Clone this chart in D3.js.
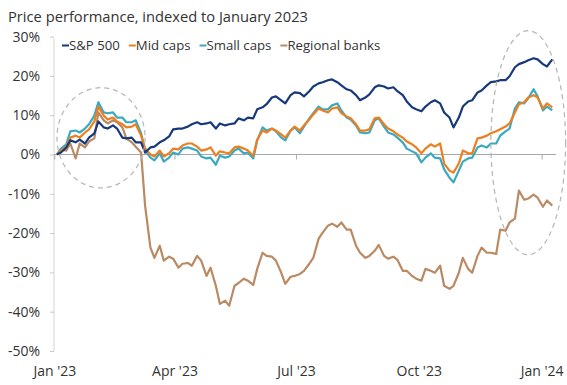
<!DOCTYPE html>
<html>
<head>
<meta charset="utf-8">
<script src="https://cdn.jsdelivr.net/npm/d3@7"></script>
<style>
  html, body { margin: 0; padding: 0; background: #fff; }
  svg { display: block; font-family: "Open Sans", "Noto Sans", sans-serif; }
</style>
</head>
<body>
<svg id="chart" width="567" height="385"></svg>
<script>
// Observation dates (twice weekly)
const dates = [
  "2023-01-03","2023-01-06","2023-01-10","2023-01-13","2023-01-17","2023-01-20","2023-01-24","2023-01-27","2023-01-31",
  "2023-02-03","2023-02-07","2023-02-10","2023-02-14","2023-02-17","2023-02-21","2023-02-24","2023-02-28",
  "2023-03-03","2023-03-07","2023-03-10","2023-03-14","2023-03-17","2023-03-21","2023-03-24","2023-03-28","2023-03-31",
  "2023-04-04","2023-04-07","2023-04-11","2023-04-14","2023-04-18","2023-04-21","2023-04-25","2023-04-28",
  "2023-05-02","2023-05-05","2023-05-09","2023-05-12","2023-05-16","2023-05-19","2023-05-23","2023-05-26","2023-05-30",
  "2023-06-02","2023-06-06","2023-06-09","2023-06-13","2023-06-16","2023-06-20","2023-06-23","2023-06-27","2023-06-30",
  "2023-07-04","2023-07-07","2023-07-11","2023-07-14","2023-07-18","2023-07-21","2023-07-25","2023-07-28",
  "2023-08-01","2023-08-04","2023-08-08","2023-08-11","2023-08-15","2023-08-18","2023-08-22","2023-08-25","2023-08-29",
  "2023-09-01","2023-09-05","2023-09-08","2023-09-12","2023-09-15","2023-09-19","2023-09-22","2023-09-26","2023-09-29",
  "2023-10-03","2023-10-06","2023-10-10","2023-10-13","2023-10-17","2023-10-20","2023-10-24","2023-10-27","2023-10-31",
  "2023-11-03","2023-11-07","2023-11-10","2023-11-14","2023-11-17","2023-11-21","2023-11-24","2023-11-28",
  "2023-12-01","2023-12-05","2023-12-08","2023-12-12","2023-12-15","2023-12-19","2023-12-22","2023-12-26","2023-12-29",
  "2024-01-02","2024-01-05","2024-01-09"
];

// Cumulative price change since the start of 2023, in percent
const sp500 = [
  0,0.5,1.8,3.6,3.1,3.8,2.8,4.3,5.4,
  8.4,6.9,6.6,7.4,6.6,4.3,4.1,4.3,
  3.1,3.1,0.5,1.8,2.0,3.1,3.6,4.6,6.4,
  6.6,6.6,7.1,7.7,8.2,7.7,7.9,8.2,
  6.6,7.9,7.4,7.7,7.9,9.2,8.7,9.4,9.2,
  11.5,12.0,12.8,14.5,14.8,13.8,13.0,15.1,15.8,
  15.6,14.8,16.1,17.3,18.1,18.4,18.9,19.1,
  18.4,17.6,16.6,16.3,15.1,13.8,14.5,15.3,17.1,
  17.6,17.3,16.8,17.1,16.1,15.1,13.5,12.0,11.5,
  11.0,12.2,13.3,13.8,13.0,10.7,9.4,6.9,9.4,
  12.2,13.5,13.8,15.8,16.3,17.6,18.4,18.6,
  18.9,18.9,19.9,22.2,23.0,23.5,24.0,24.5,24.2,
  23.0,22.4,24.2
];

const midCaps = [
  0,1.0,2.0,4.3,4.8,4.3,5.6,6.4,8.4,
  12.2,9.9,8.9,9.4,8.4,7.7,6.9,7.1,
  7.7,4.8,1.5,0,-0.5,1.0,-0.5,0.3,1.5,
  1.3,2.3,2.8,2.8,2.0,1.0,1.3,1.8,
  -0.3,0.8,0.5,0.3,1.8,2.0,1.5,1.0,-0.3,
  3.8,6.1,5.6,6.6,6.1,5.1,4.3,6.1,7.1,
  6.1,7.4,8.9,10.2,11.7,11.2,10.7,11.7,
  12.0,10.5,9.7,9.2,7.7,6.1,6.1,6.4,9.2,
  9.4,7.7,6.6,5.9,5.1,4.3,3.3,2.6,1.8,
  0.3,1.5,2.6,2.0,2.8,-2.3,-4.1,-4.6,-2.3,
  1.0,0.3,0.3,4.1,4.3,4.8,5.4,5.9,
  6.4,7.1,7.9,10.7,12.8,13.3,14.5,15.1,14.5,
  11.7,13.0,12.0
];

const smallCaps = [
  0,1.5,2.6,5.9,6.1,5.6,6.6,7.7,9.9,
  13.3,10.7,10.5,10.7,9.4,9.4,8.2,8.2,
  8.7,5.4,1.0,-0.8,-1.5,0.3,-1.8,-0.8,0.5,
  0,1.5,1.8,1.5,1.0,-0.5,-1.0,-0.8,
  -2.6,-0.3,-0.8,-0.5,1.0,1.5,0.3,0.5,-1.0,
  3.6,6.9,6.1,6.6,5.9,4.3,3.6,6.1,6.9,
  5.4,7.1,9.2,10.5,12.2,11.5,11.5,12.5,
  13.0,11.2,9.4,8.9,7.4,5.6,5.4,5.6,8.7,
  9.2,7.1,5.6,5.1,4.3,3.1,1.5,0.8,0.3,
  -2.0,-0.8,0.3,-0.8,-1.0,-3.8,-5.9,-7.1,-4.1,
  -1.8,-1.0,-0.8,1.8,2.3,1.8,2.8,2.8,
  4.8,5.9,6.6,11.7,13.3,13.0,14.3,16.6,14.8,
  11.2,12.2,11.2
];

const regionalBanks = [
  0,1.3,1.0,2.8,-1.0,2.8,1.8,3.3,4.1,
  10.7,8.7,7.9,8.7,8.2,6.9,4.1,3.1,
  2.0,0.5,-13.0,-23.7,-26.3,-23.2,-27.0,-26.0,-26.5,
  -28.8,-27.8,-27.6,-28.3,-25.8,-27.0,-30.9,-28.8,
  -33.4,-38.0,-37.2,-38.5,-33.4,-32.7,-31.6,-32.1,-33.2,
  -29.1,-25.0,-25.8,-26.0,-27.0,-30.1,-32.9,-31.1,-30.9,
  -30.4,-29.6,-27.8,-26.3,-21.4,-19.9,-18.1,-17.6,
  -18.4,-17.3,-19.1,-19.1,-23.2,-25.0,-26.3,-25.8,-24.5,
  -23.0,-25.8,-26.5,-26.0,-26.8,-29.6,-29.6,-30.9,-31.6,
  -32.1,-29.1,-29.6,-30.1,-28.3,-33.4,-34.2,-33.4,-30.1,
  -26.3,-29.1,-30.1,-25.8,-23.7,-25.0,-25.0,-25.3,
  -19.1,-19.4,-17.3,-16.3,-9.2,-11.5,-11.2,-10.2,-11.0,
  -13.3,-11.7,-13.0
];

const seriesNames = ["S&P 500", "Mid caps", "Small caps", "Regional banks"];
const seriesColors = ["#17397a", "#ec7f1f", "#3aa9c2", "#b98a63"];
const yTicks = [30, 20, 10, 0, -10, -20, -30, -40, -50];
const xTickDates = ["2023-01-01", "2023-04-01", "2023-07-01", "2023-10-01", "2024-01-01"];
const xTickLabels = ["Jan '23", "Apr '23", "Jul '23", "Oct '23", "Jan '24"];

const parse = d3.timeParse("%Y-%m-%d");
const when = dates.map(parse);
const seriesValues = [sp500, midCaps, smallCaps, regionalBanks];

const svg = d3.select("#chart");

const x = d3.scaleTime()
  .domain([parse("2023-01-01"), parse("2024-01-01")])
  .range([54.3, 541.6]);
const y = d3.scaleLinear()
  .domain([-50, 30])
  .range([351, 36.6]);

// Title
svg.append("text")
  .attr("x", 8).attr("y", 22)
  .attr("font-size", 14.7)
  .attr("fill", "#333")
  .text("Price performance, indexed to January 2023");

// Left axis: thin rule with short outward ticks
const yAxis = svg.append("g")
  .attr("transform", "translate(54,0)")
  .call(d3.axisLeft(y).tickValues(yTicks).tickSize(4).tickPadding(10)
    .tickFormat(d => d + "%"));
yAxis.select(".domain").attr("stroke", "#d3d3d3").attr("d", `M0,${y(30) + 2}V${y(-50)}`);
yAxis.selectAll(".tick line").attr("stroke", "#c8c8c8");
yAxis.selectAll(".tick text")
  .attr("font-size", 14).attr("fill", "#333")
  .attr("font-family", "'Open Sans', sans-serif");

// Zero line with quarter ticks
const zero = svg.append("g")
  .attr("transform", `translate(0,${y(0)})`)
  .call(d3.axisBottom(x).tickValues(xTickDates.map(parse)).tickSize(5).tickFormat(""));
zero.select(".domain").attr("stroke", "#a9a9a9").attr("d", `M54,0H556`);
zero.selectAll(".tick line").attr("stroke", "#a9a9a9");

// Bottom date labels
const xLab = svg.append("g")
  .attr("transform", "translate(0,366)")
  .call(d3.axisBottom(x).tickValues(xTickDates.map(parse)).tickSize(0).tickPadding(0)
    .tickFormat((d, i) => xTickLabels[i]));
xLab.select(".domain").remove();
xLab.selectAll(".tick text")
  .attr("font-size", 14).attr("fill", "#333")
  .attr("font-family", "'Open Sans', sans-serif");

// Series lines (drawn back to front)
const line = d3.line()
  .x((d, i) => x(when[i]))
  .y(d => y(d));
[3, 2, 1, 0].forEach(k => {
  svg.append("path")
    .datum(seriesValues[k])
    .attr("fill", "none")
    .attr("stroke", seriesColors[k])
    .attr("stroke-width", 2.2)
    .attr("stroke-linejoin", "round")
    .attr("d", line);
});

// Dashed call-out ellipses
const callouts = [
  { from: "2023-01-03", to: "2023-03-10", hi: 17, lo: -8.5 },
  { from: "2023-11-24", to: "2024-01-19", hi: 31.5, lo: -25.5 }
];
callouts.forEach(c => {
  const x0 = x(parse(c.from)), x1 = x(parse(c.to));
  const y0 = y(c.hi), y1 = y(c.lo);
  svg.append("ellipse")
    .attr("cx", (x0 + x1) / 2).attr("cy", (y0 + y1) / 2)
    .attr("rx", (x1 - x0) / 2).attr("ry", (y1 - y0) / 2)
    .attr("fill", "none")
    .attr("stroke", "#b5b5b5")
    .attr("stroke-width", 1.2)
    .attr("stroke-dasharray", "5,4");
});

// Legend
const legend = svg.append("g").attr("transform", "translate(62,50)");
let lx = 0;
seriesNames.forEach((name, i) => {
  const g = legend.append("g").attr("transform", `translate(${lx},0)`);
  g.append("line").attr("x1", 0).attr("x2", 7).attr("y1", -4.5).attr("y2", -4.5)
    .attr("stroke", seriesColors[i]).attr("stroke-width", 2);
  const t = g.append("text").attr("x", 7).attr("y", 0)
    .attr("font-size", 13.2).attr("fill", "#333").text(name);
  lx += 7 + t.node().getComputedTextLength() + 9;
});
</script>
</body>
</html>
